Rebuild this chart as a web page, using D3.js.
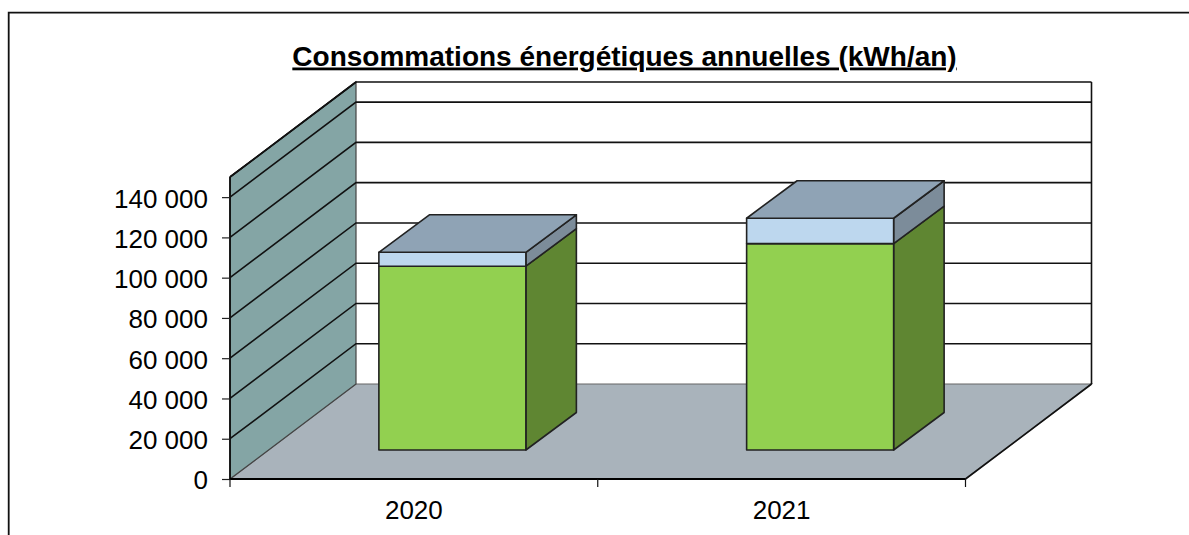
<!DOCTYPE html>
<html>
<head>
<meta charset="utf-8">
<script src="https://cdn.jsdelivr.net/npm/d3@7"></script>
<style>
html,body{margin:0;padding:0;background:#fff;overflow:hidden}
svg{display:block}
text{font-family:"Liberation Sans",Arial,sans-serif;fill:#000}
</style>
</head>
<body>
<div id="chart"></div>
<script>
// Consommations annuelles, 3D stacked columns
const years = ['2020','2021'];
const green = [91300,102500];
const blue = [6900,12600];
const yTicks = [0,20000,40000,60000,80000,100000,120000,140000];
const yMax = 150000;
const titleText = 'Consommations énergétiques annuelles (kWh/an)';

const W = 1189, H = 535;
const svg = d3.select('#chart').append('svg').attr('width',W).attr('height',H);

// frame of the chart, cut off at the right and bottom of the picture
svg.append('path').attr('d','M8.7,535V12.7H1189').attr('fill','none').attr('stroke','#111').attr('stroke-width',1.8);

const x0 = 230, x1 = 965.5, yBase = 479;
const depthX = 126, depthY = -95;   // depth of the whole floor
const barOffX = 38.5, barOffY = -29, barDX = 50.5, barDY = -37.5;
const lw = 1.6;

const x = d3.scaleBand().domain(years).range([x0,x1]).paddingInner(0).paddingOuter(0);
const y = d3.scaleLinear().domain([0,yMax]).range([yBase,177]);
const fmt = v => d3.format(',')(v).replace(/,/g,' ');
const line = d3.line();
const poly = pts => line(pts)+'Z';

// floor
svg.append('path').attr('d',poly([[x0,yBase],[x0+depthX,yBase+depthY],[x1+depthX,yBase+depthY],[x1,yBase]]))
  .attr('fill','#a9b3bb').attr('stroke','#666').attr('stroke-width',1.2);
svg.append('line').attr('x1',x1).attr('y1',yBase).attr('x2',x1+depthX).attr('y2',yBase+depthY).attr('stroke','#111').attr('stroke-width',lw);

// left wall
svg.append('path').attr('d',poly([[x0,y(0)],[x0,y(yMax)],[x0+depthX,y(yMax)+depthY],[x0+depthX,y(0)+depthY]]))
  .attr('fill','#84a5a5').attr('stroke','#444').attr('stroke-width',1.2);
svg.append('line').attr('x1',x0).attr('y1',y(yMax)).attr('x2',x0+depthX).attr('y2',y(yMax)+depthY).attr('stroke','#111').attr('stroke-width',lw);
svg.append('line').attr('x1',x0).attr('y1',y(0)).attr('x2',x0).attr('y2',y(yMax)).attr('stroke','#000').attr('stroke-width',lw);

// gridlines on the side and back walls
const grid = svg.append('g').attr('fill','none').attr('stroke','#111').attr('stroke-width',lw);
yTicks.filter(v=>v>0).concat([yMax]).forEach(v=>{
  grid.append('path').attr('d',line([[x0,y(v)],[x0+depthX,y(v)+depthY],[x1+depthX,y(v)+depthY]]));
});
grid.append('line').attr('x1',x1+depthX).attr('x2',x1+depthX).attr('y1',y(yMax)+depthY).attr('y2',yBase+depthY);

// bars
years.forEach((yr,i)=>{
  const bw = 147;
  const l = x(yr)+x.bandwidth()/2+barOffX-bw/2, r = l+bw;
  const dy = barOffY;
  let base = 0;
  [[green[i],'#92d050','#5f8632'],[blue[i],'#bdd7ee','#7c8c9a']].forEach(s=>{
    const b = y(base)+dy, t = y(base+s[0])+dy;
    const g = svg.append('g').attr('stroke','#222').attr('stroke-width',lw).attr('stroke-linejoin','round');
    g.append('path').attr('d',poly([[r,b],[r,t],[r+barDX,t+barDY],[r+barDX,b+barDY]])).attr('fill',s[2]);
    g.append('path').attr('d',poly([[l,b],[l,t],[r,t],[r,b]])).attr('fill',s[1]);
    base += s[0];
  });
  const top = y(base)+dy;
  svg.append('path').attr('d',poly([[l,top],[l+barDX,top+barDY],[r+barDX,top+barDY],[r,top]]))
    .attr('fill','#8fa3b5').attr('stroke','#222').attr('stroke-width',lw).attr('stroke-linejoin','round');
});

// axes
const yAxis = d3.axisLeft(y).tickValues(yTicks).tickFormat(fmt).tickSize(8).tickSizeOuter(0).tickPadding(14);
const gy = svg.append('g').attr('transform',`translate(${x0},0)`).call(yAxis);
gy.select('.domain').remove();
gy.selectAll('text').style('font-size','26px').attr('font-family',null).attr('dy','0.38em');
gy.selectAll('line').attr('stroke','#222').attr('stroke-width',1.2);

const xEdges = [x0,x(years[1]),x1];
const gx = svg.append('g');
gx.append('line').attr('x1',x0).attr('x2',x1).attr('y1',yBase).attr('y2',yBase).attr('stroke','#000').attr('stroke-width',2);
gx.selectAll('.tick').data(xEdges).enter().append('line').attr('class','tick')
  .attr('x1',d=>d).attr('x2',d=>d).attr('y1',yBase).attr('y2',yBase+8).attr('stroke','#111').attr('stroke-width',1.2);
gx.selectAll('text').data(years).enter().append('text')
  .attr('x',d=>x(d)+x.bandwidth()/2).attr('y',518.5).attr('text-anchor','middle').style('font-size','26px').text(d=>d);

// title
svg.append('text').attr('x',624.5).attr('y',65.5).attr('text-anchor','middle')
  .attr('font-weight','bold').attr('text-decoration','underline').style('font-size','28px').text(titleText);
</script>
</body>
</html>
